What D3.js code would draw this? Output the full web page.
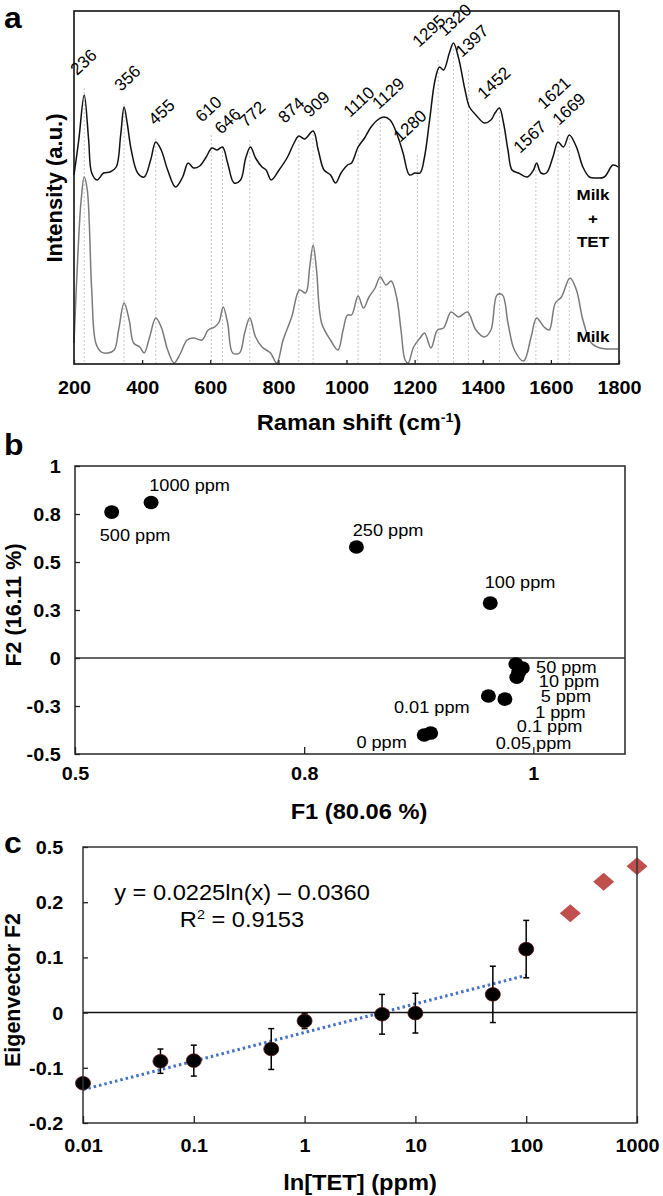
<!DOCTYPE html>
<html><head><meta charset="utf-8">
<script src="https://cdn.jsdelivr.net/npm/d3@7"></script>
<style>body{margin:0;background:#fff}svg{display:block}text{font-family:'Liberation Sans',Arial,sans-serif}</style>
</head><body><svg id="chart" width="663" height="1196"></svg>
<script>
// ---------- Panel a: Raman spectra ----------
const shiftTicks = [200,400,600,800,1000,1200,1400,1600,1800];
const milkTetX = [200,214,230,243,252,268,287,306,324,337,347,357,368,387,406,425,440,456,475,498,519,535,551,569,588,605,620,636,651,670,689,704,718,733,752,764,779,802,827,846,860,877,902,917,934,953,968,984,1003,1015,1034,1053,1072,1091,1110,1128,1147,1166,1185,1201,1216,1229,1244,1260,1273,1285,1302,1314,1329,1348,1361,1380,1405,1424,1436,1449,1461,1474,1486,1505,1530,1549,1558,1571,1587,1606,1621,1637,1654,1675,1694,1713,1731,1757,1782,1798];
const milkTetI = [189,224,269,224,191,184,191,192,197,229,257,239,214,191,187,204,222,214,194,177,187,201,196,198,207,216,214,217,201,181,184,206,217,206,197,194,184,194,207,221,228,225,233,214,194,189,181,191,199,201,217,226,237,244,247,244,231,211,189,191,191,207,244,284,297,294,311,321,306,274,257,249,241,244,251,256,241,214,194,191,187,194,201,191,191,207,222,217,229,217,197,187,186,187,199,197];
const milkX = [200,211,221,230,239,252,264,280,299,318,331,347,362,375,393,406,422,440,456,475,494,513,532,551,576,594,613,626,638,651,666,686,701,716,733,752,777,795,814,839,862,880,892,902,912,927,953,975,990,1003,1015,1034,1050,1066,1084,1099,1116,1131,1147,1160,1172,1181,1197,1216,1229,1248,1267,1285,1307,1329,1355,1380,1405,1424,1442,1458,1474,1493,1520,1542,1558,1580,1595,1613,1631,1656,1675,1694,1719,1744,1769,1798];
const milkI = [21,107,164,187,174,74,21,12,11,14,34,61,44,21,17,11,27,46,37,14,1,11,24,26,24,34,37,42,57,41,11,11,31,46,27,17,11,1,24,47,74,71,97,119,94,41,24,14,34,49,49,68,56,67,76,87,79,83,67,34,4,1,17,26,31,16,34,36,52,47,52,34,27,34,69,69,41,14,3,27,46,37,34,61,67,86,74,44,21,16,15,15];
const peakLineX = [230,347,440,603,636,716,860,902,1034,1099,1208,1269,1314,1358,1449,1556,1621,1654];
const peakLabels = ["236","356","455","610","646","772","874","909","1110","1129","1280","1295","1320","1397","1452","1567","1621","1669"];
const peakLabelX = [209,338,438,576,632,705,819,893,1010,1095,1157,1213,1289,1339,1404,1509,1580,1624];
const peakLabelI = [288,272,238,241,229,236,240,246,246,254,221,316,327,306,264,210,254,238];

// ---------- Panel b: PCA scores ----------
const pcaLabels = ["1000 ppm","500 ppm","250 ppm","100 ppm","50 ppm","10 ppm","5 ppm","1 ppm","0.1 ppm","0.05 ppm","0.01 ppm","0 ppm"];
const pcaF1 = [0.583,0.540,0.807,0.953,0.981,0.988,0.984,0.982,0.951,0.969,0.888,0.881];
const pcaF2 = [0.81,0.76,0.578,0.286,-0.031,-0.052,-0.075,-0.100,-0.198,-0.214,-0.391,-0.401];
const pcaLabelF1 = [0.581,0.527,0.803,0.947,1.003,1.006,1.008,1.002,0.982,0.959,0.848,0.807];
const pcaLabelF2 = [0.870,0.609,0.635,0.365,-0.078,-0.151,-0.229,-0.313,-0.385,-0.474,-0.286,-0.469];
const f1Ticks = [0.5,0.75,1];
const f1TickLabels = ["0.5","0.8","1"];
const f2Ticks = [-0.5,-0.25,0,0.25,0.5,0.75,1];
const f2TickLabels = ["-0.5","-0.3","0","0.3","0.5","0.8","1"];

// ---------- Panel c: eigenvector F2 vs concentration ----------
const conc = [0.01,0.05,0.1,0.5,1,5,10,50,100];
const eigF2 = [-0.128,-0.088,-0.087,-0.066,-0.015,-0.003,-0.001,0.033,0.115];
const eigErr = [0.008,0.022,0.028,0.037,0.014,0.036,0.036,0.051,0.052];
const concHigh = [250,500,1000];
const eigHigh = [0.180,0.237,0.265];
const fitCoef = [0.0225,-0.0360];
const concTicks = [0.01,0.1,1,10,100,1000];
const concTickLabels = ["0.01","0.1","1","10","100","1000"];
const eigTicks = [-0.2,-0.1,0,0.1,0.2,0.3];
const eigTickLabels = ["-0.2","-0.1","0","0.1","0.2","0.5"];

const svg = d3.select('#chart');
const SX = 1.1;
function T(g, x, y, str, o = {}) {
  const sx = o.sx ?? SX;
  const t = g.append('text')
    .attr('transform', `translate(${x},${y})` + (o.rot ? ` rotate(${o.rot})` : '') + (sx !== 1 ? ` scale(${sx},1)` : ''))
    .attr('font-size', o.size || 18)
    .attr('font-weight', o.bold ? 'bold' : 'normal')
    .attr('text-anchor', o.anchor || 'start')
    .attr('fill', o.fill || '#000');
  t.text(str);
  return t;
}
function styleAxis(g, size, sx) {
  g.select('.domain').remove();
  g.selectAll('.tick line').attr('stroke', '#222').attr('stroke-width', 1.3);
  return g.selectAll('.tick text').attr('font-size', size).attr('font-weight', 'bold')
    .attr('fill', '#000').attr('font-family', "'Liberation Sans',Arial,sans-serif")
    .attr('transform', `scale(${sx},1)`);
}

// ===== Panel a =====
{
  const x = d3.scaleLinear().domain([200,1800]).range([74,619]);
  const y = d3.scaleLinear().domain([0,353]).range([364,11]);
  const g = svg.append('g');
  g.selectAll('line.guide').data(peakLineX).join('line')
    .attr('x1', d => x(d)).attr('x2', d => x(d))
    .attr('y1', (d,i) => y(peakLabelI[i] - 12)).attr('y2', y(0))
    .attr('stroke', '#c8c8c8').attr('stroke-width', 1).attr('stroke-dasharray', '2,2');
  const line = d3.line().x(d => x(d[0])).y(d => y(d[1])).curve(d3.curveCatmullRom.alpha(0.5));
  g.append('path').datum(milkX.map((v,i) => [v, milkI[i]])).attr('d', line)
    .attr('fill','none').attr('stroke','#7a7a7a').attr('stroke-width',1.5);
  g.append('path').datum(milkTetX.map((v,i) => [v, milkTetI[i]])).attr('d', line)
    .attr('fill','none').attr('stroke','#111').attr('stroke-width',1.5);
  peakLabels.forEach((s,i) => T(g, x(peakLabelX[i]), y(peakLabelI[i]), s, {size:17, rot:-43, sx:1}));
  g.append('rect').attr('x',74).attr('y',11).attr('width',545).attr('height',353)
    .attr('fill','none').attr('stroke','#111').attr('stroke-width',1.6);
  const ax = g.append('g').attr('transform','translate(0,364)')
    .call(d3.axisBottom(x).tickValues(shiftTicks).tickSize(-4).tickFormat(d => d));
  styleAxis(ax, 18, SX).attr('y', 30).attr('dy', 0);
  T(g, 593, 200, 'Milk', {size:15.5, bold:true, anchor:'middle'});
  T(g, 593, 224, '+', {size:15.5, bold:true, anchor:'middle'});
  T(g, 593, 247, 'TET', {size:15.5, bold:true, anchor:'middle'});
  T(g, 593, 342, 'Milk', {size:15.5, bold:true, anchor:'middle'});
  const tt = T(g, 359, 430, 'Raman shift (cm', {size:21.5, bold:true, anchor:'middle'});
  tt.append('tspan').attr('font-size', 13).attr('dy', -8).text('-1');
  tt.append('tspan').attr('dy', 8).text(')');
  T(g, 62, 188, 'Intensity (a.u.)', {size:22, bold:true, anchor:'middle', rot:-90, sx:1});
  T(g, 4, 28, 'a', {size:29, bold:true});
}

// ===== Panel b =====
{
  const x = d3.scaleLinear().domain([0.5,1.1]).range([75,625]);
  const y = d3.scaleLinear().domain([-0.5,1]).range([754,466]);
  const g = svg.append('g');
  g.append('line').attr('x1',75).attr('x2',625).attr('y1',y(0)).attr('y2',y(0))
    .attr('stroke','#333').attr('stroke-width',1.5);
  g.selectAll('ellipse').data(pcaF1).join('ellipse')
    .attr('cx', d => x(d)).attr('cy', (d,i) => y(pcaF2[i])).attr('rx', 7.5).attr('ry', 6.8).attr('fill','#000');
  pcaLabels.forEach((s,i) => T(g, x(pcaLabelF1[i]), y(pcaLabelF2[i]), s, {size:16.5, sx:1.1}));
  g.append('rect').attr('x',75).attr('y',466).attr('width',550).attr('height',288)
    .attr('fill','none').attr('stroke','#333').attr('stroke-width',1.6);
  const ax = g.append('g').attr('transform','translate(0,754)')
    .call(d3.axisBottom(x).tickValues(f1Ticks).tickSize(-7).tickFormat((d,i) => f1TickLabels[i]));
  styleAxis(ax, 18, SX).attr('y', 26).attr('dy', 0);
  const ay = g.append('g').attr('transform','translate(75,0)')
    .call(d3.axisLeft(y).tickValues(f2Ticks).tickSize(-5).tickFormat((d,i) => f2TickLabels[i]));
  styleAxis(ay, 18, SX).attr('x', -13).attr('dy', '0.36em');
  T(g, 359, 819, 'F1 (80.06 %)', {size:21.5, bold:true, anchor:'middle'});
  T(g, 21, 605, 'F2 (16.11 %)', {size:21.5, bold:true, anchor:'middle', rot:-90, sx:1});
  T(g, 4, 455, 'b', {size:29, bold:true});
}

// ===== Panel c =====
{
  const x = d3.scaleLog().domain([0.01,1000]).range([83,637]);
  const y = d3.scaleLinear().domain([-0.2,0.3]).range([1123,847]);
  const g = svg.append('g');
  g.append('line').attr('x1',83).attr('x2',637).attr('y1',y(0)).attr('y2',y(0))
    .attr('stroke','#111').attr('stroke-width',1.5);
  const xf = [conc[0], conc[conc.length-1]];
  g.append('line')
    .attr('x1', x(xf[0])).attr('y1', y(fitCoef[0]*Math.log(xf[0]) + fitCoef[1]))
    .attr('x2', x(xf[1])).attr('y2', y(fitCoef[0]*Math.log(xf[1]) + fitCoef[1]))
    .attr('stroke','#4472c4').attr('stroke-width',3).attr('stroke-dasharray','2.5,3');
  const eb = g.selectAll('g.eb').data(conc).join('g');
  eb.append('line').attr('x1', d => x(d)).attr('x2', d => x(d))
    .attr('y1', (d,i) => y(eigF2[i] - eigErr[i])).attr('y2', (d,i) => y(eigF2[i] + eigErr[i]))
    .attr('stroke','#000').attr('stroke-width',1.5);
  [-1,1].forEach(s => eb.append('line').attr('x1', d => x(d)-3).attr('x2', d => x(d)+3)
    .attr('y1', (d,i) => y(eigF2[i] + s*eigErr[i])).attr('y2', (d,i) => y(eigF2[i] + s*eigErr[i]))
    .attr('stroke','#000').attr('stroke-width',1.5));
  g.selectAll('ellipse').data(conc).join('ellipse')
    .attr('cx', d => x(d)).attr('cy', (d,i) => y(eigF2[i])).attr('rx', 7.5).attr('ry', 6.8)
    .attr('fill','#000').attr('stroke','#5a1010').attr('stroke-width',0.8);
  g.selectAll('path.dia').data(concHigh).join('path').attr('class','dia')
    .attr('d', (d,i) => { const cx = x(d), cy = y(eigHigh[i]); return `M${cx},${cy-9}L${cx+10.5},${cy}L${cx},${cy+9}L${cx-10.5},${cy}Z`; })
    .attr('fill','#c0504d');
  g.append('rect').attr('x',83).attr('y',847).attr('width',554).attr('height',276)
    .attr('fill','none').attr('stroke','#333').attr('stroke-width',1.5);
  const ax = g.append('g').attr('transform','translate(0,1123)')
    .call(d3.axisBottom(x).tickValues(concTicks).tickSize(-7).tickFormat((d,i) => concTickLabels[i]));
  styleAxis(ax, 18, SX).attr('y', 29).attr('dy', 0);
  const ay = g.append('g').attr('transform','translate(83,0)')
    .call(d3.axisLeft(y).tickValues(eigTicks).tickSize(-5).tickFormat((d,i) => eigTickLabels[i]));
  styleAxis(ay, 18, SX).attr('x', -18).attr('dy', '0.36em');
  T(g, 242, 900, 'y = 0.0225ln(x) – 0.0360', {size:21.5, anchor:'middle'});
  const r2 = T(g, 242, 927, 'R', {size:21.5, anchor:'middle'});
  r2.append('tspan').attr('font-size', 13).attr('dy', -8).text('2');
  r2.append('tspan').attr('dy', 8).text(' = 0.9153');
  T(g, 360, 1190, 'ln[TET] (ppm)', {size:21.5, bold:true, anchor:'middle'});
  T(g, 20, 990, 'Eigenvector F2', {size:21.5, bold:true, anchor:'middle', rot:-90, sx:1});
  T(g, 4, 853, 'c', {size:29, bold:true});
}
</script></body></html>
